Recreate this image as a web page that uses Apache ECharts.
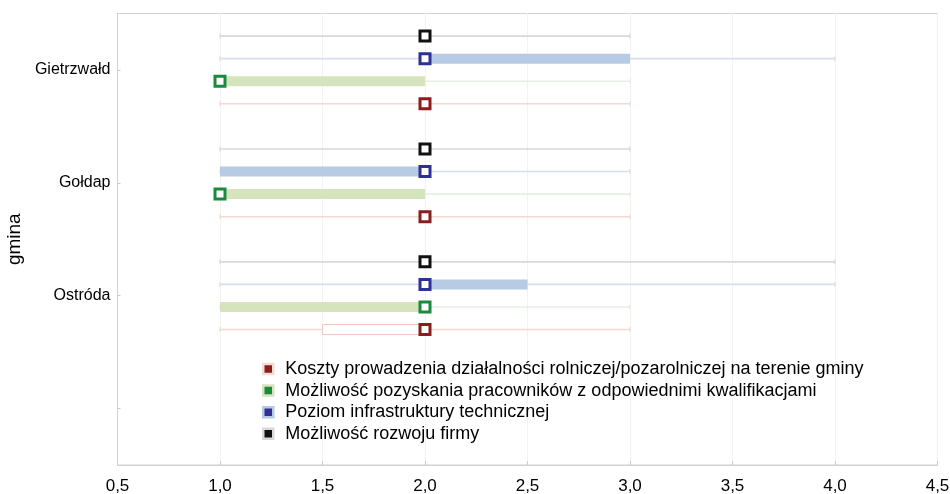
<!DOCTYPE html>
<html>
<head>
<meta charset="utf-8">
<script src="https://cdn.jsdelivr.net/npm/echarts@6/dist/echarts.min.js"></script>
<style>html,body{margin:0;padding:0;background:#fff}#c{width:950px;height:494px}</style>
</head>
<body>
<div id="c"></div>
<script>
// ---- data ----
var categories = ['Gietrzwałd', 'Gołdap', 'Ostróda', ''];
var xTicks = [0.5, 1.0, 1.5, 2.0, 2.5, 3.0, 3.5, 4.0, 4.5];
var seriesNames = [
  'Koszty prowadzenia działalności rolniczej/pozarolniczej na terenie gminy',
  'Możliwość pozyskania pracowników z odpowiednimi kwalifikacjami',
  'Poziom infrastruktury technicznej',
  'Możliwość rozwoju firmy'
];
// per category: Gietrzwałd, Gołdap, Ostróda
var kosztyMin = [1, 1, 1],   kosztyQ1 = [2, 2, 1.5], kosztyMed = [2, 2, 2], kosztyQ3 = [2, 2, 2],   kosztyMax = [3, 3, 3];
var pracMin   = [1, 1, 1],   pracQ1   = [1, 1, 1],   pracMed   = [1, 1, 2], pracQ3   = [2, 2, 2],   pracMax   = [3, 3, 3];
var infraMin  = [1, 1, 1],   infraQ1  = [2, 1, 2],   infraMed  = [2, 2, 2], infraQ3  = [3, 2, 2.5], infraMax  = [4, 3, 4];
var rozwojMin = [1, 1, 1],   rozwojQ1 = [2, 2, 2],   rozwojMed = [2, 2, 2], rozwojQ3 = [2, 2, 2],   rozwojMax = [3, 3, 4];

var stats = [
  [kosztyMin, kosztyQ1, kosztyMed, kosztyQ3, kosztyMax],
  [pracMin, pracQ1, pracMed, pracQ3, pracMax],
  [infraMin, infraQ1, infraMed, infraQ3, infraMax],
  [rozwojMin, rozwojQ1, rozwojMed, rozwojQ3, rozwojMax]
];

// ---- styles ----
var styles = [
  { marker: '#8b1d1d', boxFill: '#ffffff', boxStroke: '#f0c6be', legendBorder: '#f1dcd8', whisker: '#f3d9d2', offset: 0.3 },
  { marker: '#1b8a3d', boxFill: '#d6e4be', boxStroke: null, legendBorder: '#d6e4be', whisker: '#e6efe3', offset: 0.1 },
  { marker: '#2e3192', boxFill: '#b7cbe4', boxStroke: null, legendBorder: '#b7cbe4', whisker: '#d9ddef', offset: -0.1 },
  { marker: '#111111', boxFill: '#d9d9d9', boxStroke: null, legendBorder: '#d9d9d9', whisker: '#d9d9d9', offset: -0.3 }
];

function buildData(s) {
  var out = [];
  for (var i = 0; i < s[0].length; i++) {
    out.push([i, s[0][i], s[1][i], s[2][i], s[3][i], s[4][i]]);
  }
  return out;
}

function makeRender(st) {
  return function (params, api) {
    var cat = api.value(0);
    var band = api.size([0, 1])[1];
    var pMin = api.coord([api.value(1), cat]);
    var pQ1 = api.coord([api.value(2), cat]);
    var pMed = api.coord([api.value(3), cat]);
    var pQ3 = api.coord([api.value(4), cat]);
    var pMax = api.coord([api.value(5), cat]);
    var y = pMin[1] + st.offset * band;
    var ch = [];
    ch.push({ type: 'line', shape: { x1: pMin[0], y1: y, x2: pMax[0], y2: y },
      style: { stroke: st.whisker, lineWidth: 1.6 } });
    ch.push({ type: 'line', shape: { x1: pMin[0], y1: y - 2.5, x2: pMin[0], y2: y + 2.5 },
      style: { stroke: st.whisker, lineWidth: 1.2 } });
    ch.push({ type: 'line', shape: { x1: pMax[0], y1: y - 2.5, x2: pMax[0], y2: y + 2.5 },
      style: { stroke: st.whisker, lineWidth: 1.2 } });
    var bw = pQ3[0] - pQ1[0];
    if (bw > 0.5) {
      var bs = { fill: st.boxFill };
      if (st.boxStroke) { bs.stroke = st.boxStroke; bs.lineWidth = 1; }
      ch.push({ type: 'rect', shape: { x: pQ1[0], y: y - 5, width: bw, height: 10 }, style: bs });
    }
    ch.push({ type: 'rect', shape: { x: pMed[0] - 5, y: y - 5, width: 10, height: 10 },
      style: { fill: '#ffffff', stroke: st.marker, lineWidth: 3 } });
    return { type: 'group', children: ch };
  };
}

var series = [];
for (var k = 0; k < 4; k++) {
  series.push({
    name: seriesNames[k],
    type: 'custom',
    renderItem: makeRender(styles[k]),
    encode: { x: [1, 2, 3, 4, 5], y: 0 },
    itemStyle: { color: styles[k].marker },
    data: buildData(stats[k]),
    z: 2 + k
  });
}

var legendData = seriesNames.map(function (n, k) {
  return { name: n, icon: 'rect',
    itemStyle: { color: styles[k].marker, borderColor: styles[k].legendBorder, borderWidth: 2.5 } };
});

var chart = echarts.init(document.getElementById('c'));
chart.setOption({
  animation: false,
  backgroundColor: '#ffffff',
  textStyle: { fontFamily: 'Liberation Sans, Arial, sans-serif' },
  grid: { left: 117.5, right: 12.5, top: 13.5, bottom: 29, show: true, borderColor: '#d2d2d2', borderWidth: 1,
    containLabel: false, outerBoundsMode: 'none' },
  legend: {
    orient: 'vertical',
    left: 257, top: 355,
    itemWidth: 10, itemHeight: 10, itemGap: 3.6,
    selectedMode: false,
    textStyle: { fontSize: 18, lineHeight: 18, color: '#000', padding: [0, 0, 0, 7],
      fontFamily: 'Liberation Sans, Arial, sans-serif' },
    data: legendData
  },
  xAxis: {
    type: 'value', min: 0.5, max: 4.5, interval: 0.5,
    axisLine: { show: true, lineStyle: { color: '#d2d2d2' } },
    axisTick: { show: true, inside: true, length: 4, lineStyle: { color: '#cccccc' } },
    splitLine: { show: true, lineStyle: { color: '#f3f3f3', width: 1 } },
    axisLabel: { fontSize: 17, color: '#000', margin: 13,
      formatter: function (v) { return v.toFixed(1).replace('.', ','); } }
  },
  yAxis: {
    type: 'category', inverse: true, data: categories,
    name: 'gmina', nameLocation: 'middle', nameGap: 89,
    nameTextStyle: { fontSize: 19, color: '#000' },
    axisLine: { show: true, lineStyle: { color: '#d2d2d2' } },
    axisTick: { show: true, inside: true, alignWithLabel: true, length: 3, lineStyle: { color: '#cccccc' } },
    splitLine: { show: false },
    axisLabel: { fontSize: 16, color: '#000', margin: 7 }
  },
  series: series
});
</script>
</body>
</html>
